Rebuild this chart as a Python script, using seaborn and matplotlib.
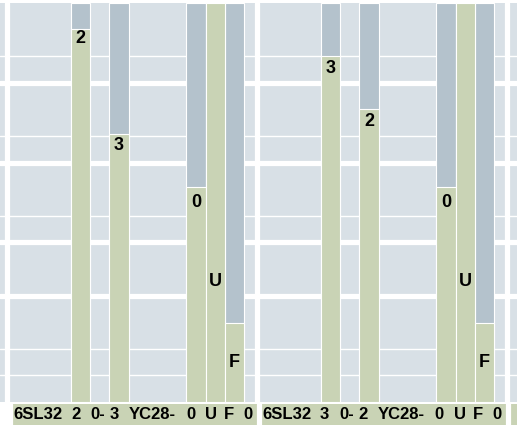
import numpy as np
import pandas as pd
import matplotlib.pyplot as plt
import seaborn as sns

# values (y axis runs 0-100, grey bars are full height)
labels_left = ["6SL32", "2", "0-", "3", "YC28-", "0", "U", "F", "0"]
labels_right = ["6SL32", "3", "0-", "2", "YC28-", "0", "U", "F", "0"]
green_left = [np.nan, 93.5, np.nan, 67.2, np.nan, 53.9, 100, 19.8, np.nan]
green_right = [np.nan, 86.7, np.nan, 73.4, np.nan, 53.9, 100, 19.8, np.nan]
total_left = [np.nan, 100, np.nan, 100, np.nan, 100, 100, 100, np.nan]
total_right = [np.nan, 100, np.nan, 100, np.nan, 100, 100, 100, np.nan]
textval_left = [np.nan, 91, np.nan, 64.4, np.nan, 50.1, 30.1, 10, np.nan]
textval_right = [np.nan, 83.5, np.nan, 70.2, np.nan, 50.1, 30.1, 10, np.nan]
ytick_major = [26.67, 40, 60, 80]
ytick_minor = [6.67, 13.33, 46.67, 66.67, 86.67]

bg = "#d8e0e6"
grey = "#b4c2cc"
green = "#c9d3b5"

sns.set_style("darkgrid", {"axes.facecolor": bg, "grid.color": "white"})
plt.rcParams['font.family'] = ['Liberation Sans', 'DejaVu Sans']

# slot layout: long labels get 3 slots, short ones 1
labels = labels_left + labels_right
widths = np.array([3 if len(s) > 2 else 1 for s in labels])
lefts = np.concatenate([[0], np.cumsum(widths)[:-1]])
centers = lefts + widths / 2
panel_units = widths[:len(labels_left)].sum()

df = pd.DataFrame({
    "x": centers,
    "left": lefts,
    "label": labels,
    "green": green_left + green_right,
    "total": total_left + total_right,
    "textval": textval_left + textval_right,
})
bars = df.dropna(subset=["total"])

W, H = 517, 425
fig = plt.figure(figsize=(W / 100, H / 100), dpi=100)
ax = fig.add_axes([0, 1 - 402 / H, 1, 399 / H])

sns.barplot(data=bars, x="x", y="total", native_scale=True, width=1, color=grey,
            saturation=1, edgecolor="white", linewidth=0.8, errorbar=None, ax=ax)
sns.barplot(data=bars, x="x", y="green", native_scale=True, width=1, color=green,
            saturation=1, edgecolor="white", linewidth=0.8, errorbar=None, ax=ax)

for _, r in bars.iterrows():
    ax.text(r["x"], r["textval"], r["label"], ha="center", va="center",
            fontsize=13, fontweight="bold", color="black")

unit_px = 250 / panel_units
x0 = -13.25 / unit_px
ax.set_xlim(x0, x0 + W / unit_px)
ax.set_ylim(0, 100)
vgrid = [k * panel_units - 0.3 for k in range(3)]
ax.set_xticks([])
ax.set_xticks(vgrid, minor=True)
ax.set_yticks(ytick_major)
ax.set_yticks(ytick_minor, minor=True)
ax.tick_params(which="both", length=0, labelleft=False, labelbottom=False)
ax.xaxis.grid(False, which="major")
ax.xaxis.grid(True, which="minor", color="white", linewidth=3.75)
ax.yaxis.grid(True, which="major", color="white", linewidth=3.75)
ax.yaxis.grid(True, which="minor", color="white", linewidth=1.0)
ax.set_axisbelow(True)
ax.set_xlabel("")
ax.set_ylabel("")
for sp in ax.spines.values():
    sp.set_visible(False)

# label strip below the plot
lab = fig.add_axes([10 / W, 0, (W - 10) / W, 21 / H], facecolor=green)
lab.set_xlim(x0 + 10 / unit_px, x0 + W / unit_px)
lab.set_ylim(0, 1)
lab.set_xticks([])
lab.set_xticks(vgrid, minor=True)
lab.set_yticks([])
lab.tick_params(which="both", length=0, labelbottom=False)
lab.xaxis.grid(True, which="minor", color="white", linewidth=3.75)
lab.yaxis.grid(False)
for sp in lab.spines.values():
    sp.set_visible(False)
for _, r in df.iterrows():
    lab.text(r["left"] - 0.1, 0.3, r["label"], ha="left", va="baseline",
             fontsize=12, fontweight="bold", color="black")

fig.savefig("out.png", dpi=100)
